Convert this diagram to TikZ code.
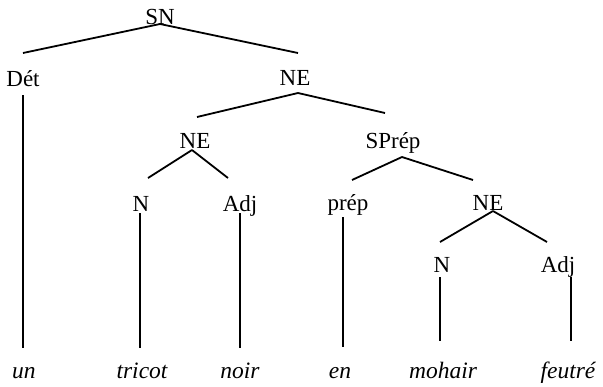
\documentclass[tikz,border=0pt]{standalone}
\usepackage{fontspec}
\setmainfont{Liberation Serif}
\usetikzlibrary{calc}
\tikzset{
  lab/.style={anchor=base, inner sep=0pt, font=\fontsize{23}{27}\selectfont},
  word/.style={anchor=base, inner sep=0pt, font=\fontsize{23.5}{27}\selectfont\itshape},
  branch/.style={line width=1.8pt, draw=black}
}
\begin{document}
\begin{tikzpicture}[x=1pt,y=-1pt]
\useasboundingbox (0,0) rectangle (603,386);
% labels
\node[lab] (sn) at (160,24) {SN};
\node[lab] (det) at (23,86) {Dét};
\node[lab] (ne1) at (295,85) {NE};
\node[lab] (ne2) at (195,148) {NE};
\node[lab] (sprep) at (393,148) {SPrép};
\node[lab] (n1) at (141,211) {N};
\node[lab] (adj1) at (240,211) {Adj};
\node[lab] (prep) at (348,210) {prép};
\node[lab] (ne3) at (488,210) {NE};
\node[lab] (n2) at (442,272) {N};
\node[lab] (adj2) at (558,272) {Adj};
% words
\node[word] (un) at (24,378) {un};
\node[word] (tricot) at (142,378) {tricot};
\node[word] (noir) at (240,378) {noir};
\node[word] (en) at (340,378) {en};
\node[word] (mohair) at (443,378) {mohair};
\node[word] (feutre) at (568,378) {feutré};
% branches
\draw[branch] ($(sn.base)+(0,0)$) -- ($(det.base)+(0,-33)$);
\draw[branch] ($(sn.base)+(0,0)$) -- ($(ne1.base)+(3,-32)$);
\draw[branch] ($(ne1.base)+(3,8)$) -- ($(ne2.base)+(2,-31)$);
\draw[branch] ($(ne1.base)+(3,8)$) -- ($(sprep.base)+(-8,-35)$);
\draw[branch] ($(ne2.base)+(-3,2)$) -- ($(n1.base)+(7,-33)$);
\draw[branch] ($(ne2.base)+(-3,2)$) -- ($(adj1.base)+(-12,-33)$);
\draw[branch] ($(sprep.base)+(9,9)$) -- ($(prep.base)+(4,-30)$);
\draw[branch] ($(sprep.base)+(9,9)$) -- ($(ne3.base)+(-15,-30)$);
\draw[branch] ($(ne3.base)+(5,1)$) -- ($(n2.base)+(-2,-30)$);
\draw[branch] ($(ne3.base)+(5,1)$) -- ($(adj2.base)+(-11,-30)$);
% vertical lines
\draw[branch] ($(det.base)+(0,9)$) -- ($(un.base)+(-1,-30)$);
\draw[branch] ($(n1.base)+(-1,2)$) -- ($(tricot.base)+(-2,-30)$);
\draw[branch] ($(adj1.base)+(0,2)$) -- ($(noir.base)+(0,-30)$);
\draw[branch] ($(prep.base)+(-5,7)$) -- ($(en.base)+(3,-31)$);
\draw[branch] ($(n2.base)+(-2,5)$) -- ($(mohair.base)+(-3,-37)$);
\draw[branch] ($(adj2.base)+(13,5)$) -- ($(feutre.base)+(3,-37)$);
\end{tikzpicture}
\end{document}
